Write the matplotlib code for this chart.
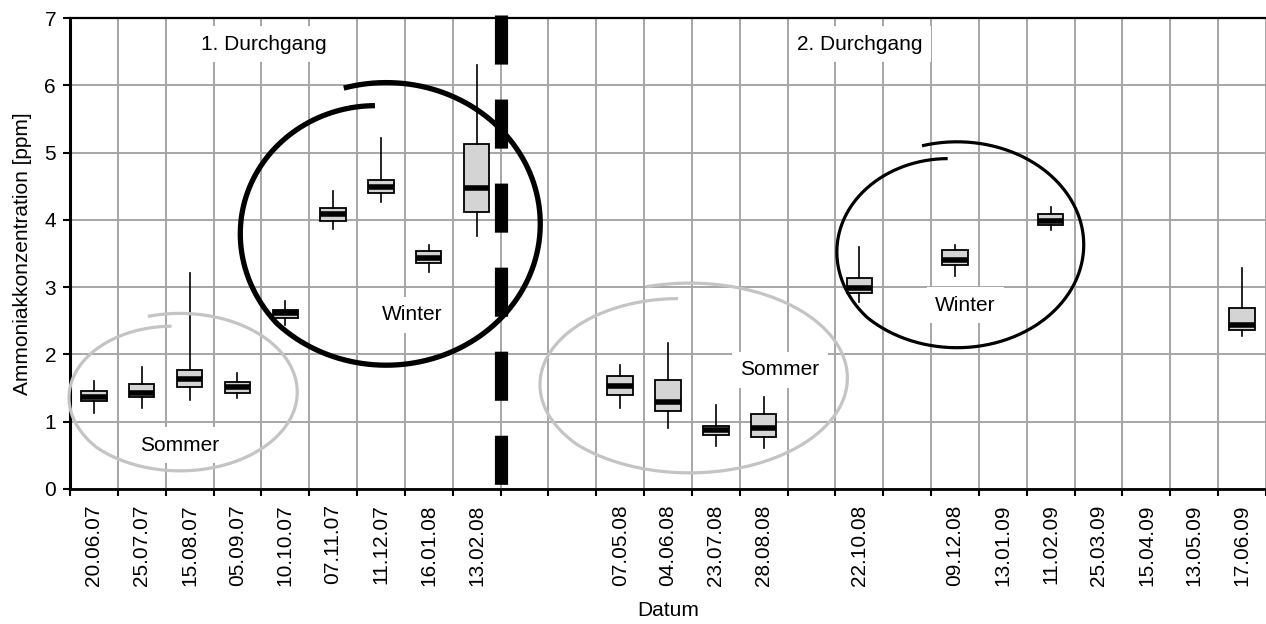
import numpy as np
import matplotlib.pyplot as plt

plt.rcParams['font.family'] = ['Liberation Sans', 'DejaVu Sans']

# x-Achse: Kategorien (leere Felder = keine Messung)
slots = ['20.06.07', '25.07.07', '15.08.07', '05.09.07', '10.10.07', '07.11.07',
         '11.12.07', '16.01.08', '13.02.08', '', '', '07.05.08', '04.06.08',
         '23.07.08', '28.08.08', '', '22.10.08', '', '09.12.08', '13.01.09',
         '11.02.09', '25.03.09', '15.04.09', '13.05.09', '17.06.09']

# Boxplot-Kennwerte je Messtag (ppm)
box_dates = ['20.06.07', '25.07.07', '15.08.07', '05.09.07', '10.10.07', '07.11.07',
             '11.12.07', '16.01.08', '13.02.08', '07.05.08', '04.06.08', '23.07.08',
             '28.08.08', '22.10.08', '09.12.08', '11.02.09', '17.06.09']
whislo = [1.13, 1.20, 1.32, 1.35, 2.44, 3.87, 4.26, 3.23, 3.76, 1.20, 0.90, 0.64, 0.61, 2.78, 3.16, 3.85, 2.27]
q1     = [1.31, 1.37, 1.51, 1.43, 2.54, 3.98, 4.40, 3.36, 4.11, 1.40, 1.16, 0.80, 0.78, 2.91, 3.33, 3.92, 2.36]
med    = [1.37, 1.42, 1.64, 1.52, 2.61, 4.08, 4.49, 3.44, 4.47, 1.53, 1.29, 0.87, 0.90, 2.98, 3.40, 3.99, 2.44]
q3     = [1.46, 1.56, 1.77, 1.59, 2.66, 4.18, 4.59, 3.53, 5.12, 1.68, 1.62, 0.93, 1.11, 3.14, 3.55, 4.09, 2.69]
whishi = [1.60, 1.81, 3.21, 1.72, 2.79, 4.43, 5.21, 3.62, 6.30, 1.84, 2.17, 1.25, 1.37, 3.60, 3.63, 4.19, 3.28]

FS = 15

fig = plt.figure(figsize=(12.66, 6.24), dpi=100)
ax = fig.add_axes([70 / 1266, 135 / 624, 1196 / 1266, 471 / 624])

pos = [slots.index(d) for d in box_dates]
stats = [dict(med=m, q1=a, q3=b, whislo=lo, whishi=hi, fliers=[])
         for m, a, b, lo, hi in zip(med, q1, q3, whislo, whishi)]
ax.bxp(stats, positions=pos, widths=0.53, patch_artist=True, showcaps=False,
       boxprops=dict(facecolor='#d4d4d4', edgecolor='black', linewidth=1.3),
       medianprops=dict(color='black', linewidth=4, solid_capstyle='butt'),
       whiskerprops=dict(color='black', linewidth=1.2),
       manage_ticks=False, zorder=3)

ax.set_xlim(-0.5, len(slots) - 0.5)
ax.set_ylim(0, 7)
ax.set_xticks(np.arange(len(slots) + 1) - 0.5)
ax.set_xticklabels([])
ax.set_xticks(range(len(slots)), minor=True)
ax.set_xticklabels(slots, minor=True, rotation=90, fontsize=FS)
ax.tick_params(axis='x', which='minor', length=0, pad=11)
ax.tick_params(axis='x', which='major', length=5, width=1.5, direction='out')
ax.set_yticks(range(8))
ax.tick_params(axis='y', length=5, width=1.5, labelsize=FS, pad=5)
ax.set_axisbelow(True)
ax.grid(True, which='major', color='#a6a6a6', lw=1.4)
ax.spines['left'].set_linewidth(2.2)
ax.spines['bottom'].set_linewidth(2)
ax.spines['top'].set_linewidth(1.6)
ax.spines['right'].set_visible(False)

ax.set_ylabel('Ammoniakkonzentration [ppm]', fontsize=FS, labelpad=9)
ax.set_xlabel('Datum', fontsize=FS, labelpad=11)

# Trennlinie zwischen den Durchgaengen
ax.plot([8.5, 8.5], [7.04, 0.05], color='black', lw=9.5,
        linestyle=(0, (3.72, 2.65)), clip_on=False, zorder=5)


def loop(cx, cy, a, b, color, lw, t0=106, t1=-265, shrink=0.84):
    t = np.linspace(t0, t1, 500)
    frac = (t0 - t) / (t0 - t1)
    r = 1 - (1 - shrink) * np.clip((frac - 0.65) / 0.35, 0, 1)
    ax.plot(cx + a * r * np.cos(np.radians(t)), cy + b * r * np.sin(np.radians(t)),
            color=color, lw=lw, solid_capstyle='butt', clip_on=False, zorder=4)


loop(6.11, 3.94, 3.22, 2.10, 'black', 3.8)
loop(18.04, 3.63, 2.65, 1.53, 'black', 2.3)
loop(1.80, 1.44, 2.45, 1.17, '#c4c4c4', 2.3)
loop(12.45, 1.65, 3.30, 1.41, '#c4c4c4', 2.3)

box = dict(boxstyle='square,pad=0.4', fc='white', ec='none')
for x, y, s in [(3.56, 6.61, '1. Durchgang'), (16.01, 6.61, '2. Durchgang'),
                (6.65, 2.59, 'Winter'), (18.21, 2.73, 'Winter'),
                (1.80, 0.65, 'Sommer'), (14.34, 1.77, 'Sommer')]:
    ax.text(x, y, s, ha='center', va='center', fontsize=FS, bbox=box, zorder=2.5)

fig.savefig('out.png', dpi=100)
